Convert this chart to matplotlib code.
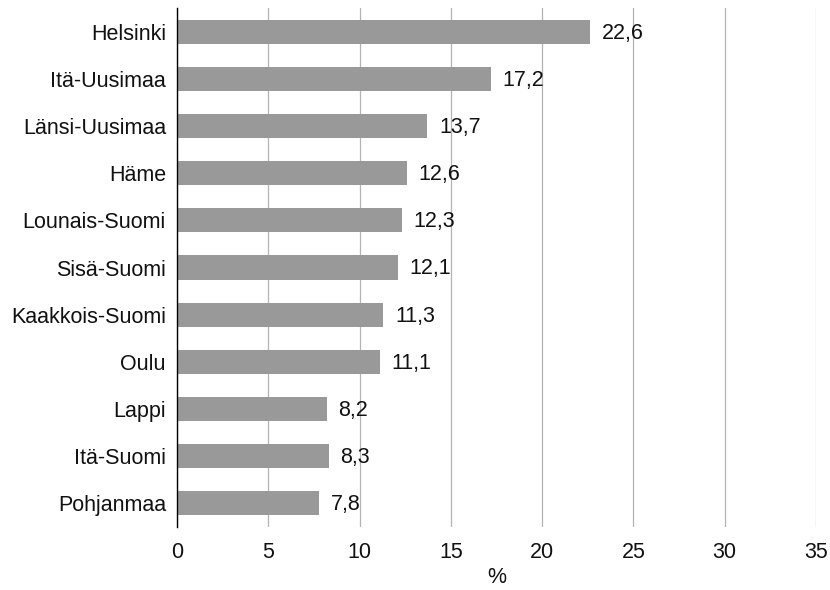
import matplotlib
matplotlib.use("Agg")
import matplotlib.pyplot as plt

regions = ["Helsinki", "Itä-Uusimaa", "Länsi-Uusimaa", "Häme", "Lounais-Suomi",
           "Sisä-Suomi", "Kaakkois-Suomi", "Oulu", "Lappi", "Itä-Suomi", "Pohjanmaa"]
values = [22.6, 17.2, 13.7, 12.6, 12.3, 12.1, 11.3, 11.1, 8.2, 8.3, 7.8]
xticks = [0, 5, 10, 15, 20, 25, 30, 35]

plt.rcParams['font.family'] = ['Liberation Sans', 'DejaVu Sans']
FS = 15.5

fig = plt.figure(figsize=(8.3, 5.9), dpi=100)
ax = fig.add_axes([0.2133, 0.1068, 0.9831 - 0.2133, 0.9864 - 0.1068])

y = list(range(len(regions)))
ax.barh(y, values, height=0.51, color="#999999", zorder=2)
for yi, v in zip(y, values):
    ax.annotate(f"{v:.1f}".replace(".", ","), xy=(v, yi), xytext=(8.5, -1),
                textcoords="offset points", va="center", ha="left",
                fontsize=FS, color="#111111", zorder=3)

ax.set_ylim(len(regions) - 0.5, -0.5)
ax.set_xlim(0, 35)
ax.set_yticks(y)
ax.set_yticklabels(regions, fontsize=FS, color="#111111")
ax.set_xticks(xticks)
ax.set_xticklabels([str(t) for t in xticks], fontsize=FS, color="#111111")
ax.tick_params(axis="y", length=0, pad=8)
ax.tick_params(axis="x", length=0, pad=11)
ax.xaxis.grid(True, color="#b3b3b3", linewidth=0.9, zorder=0)
ax.set_axisbelow(True)
for s in ["top", "right", "bottom"]:
    ax.spines[s].set_visible(False)
ax.spines["left"].set_color("black")
ax.spines["left"].set_linewidth(1.0)
ax.set_xlabel("%", fontsize=FS, labelpad=2.5, color="#111111")

fig.savefig("out.png", dpi=100)
